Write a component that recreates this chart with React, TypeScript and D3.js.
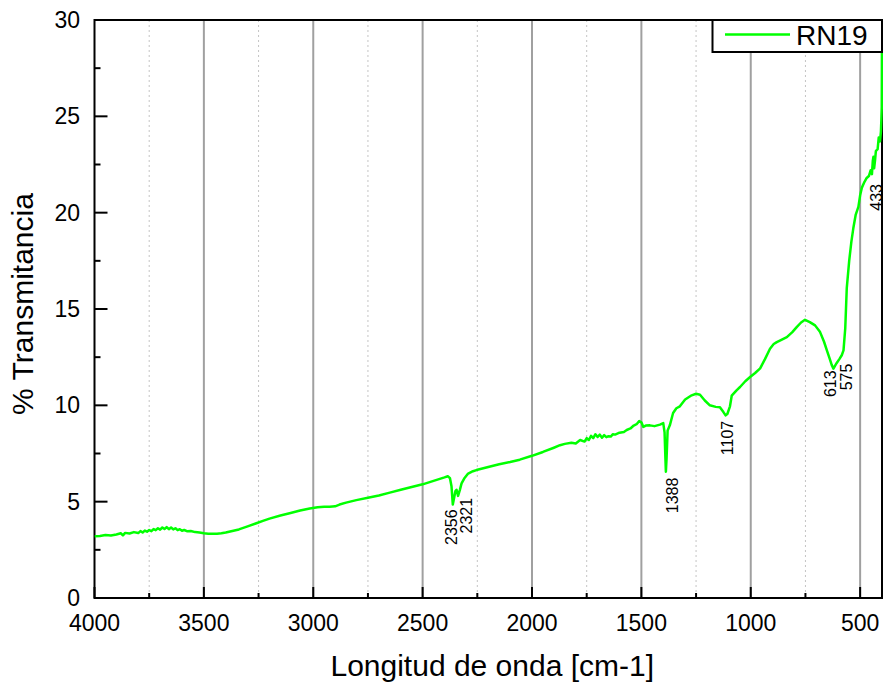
import React from "react";
import * as d3 from "d3";

const wavenumbers: number[] = [
  4000, 3975, 3950, 3925, 3900, 3880, 3870, 3860, 3840, 3820, 3800, 3790, 3780, 3770, 3760, 3750, 3740, 3730, 3720, 3710,
  3700, 3690, 3680, 3670, 3660, 3650, 3640, 3630, 3620, 3610, 3600, 3590, 3575, 3560, 3540, 3520, 3500, 3480, 3460, 3440,
  3420, 3400, 3370, 3340, 3300, 3260, 3230, 3200, 3150, 3108, 3060, 3016, 2980, 2950, 2925, 2900, 2880, 2850, 2803, 2750,
  2700, 2650, 2600, 2550, 2500, 2450, 2400, 2385, 2375, 2368, 2362, 2356, 2350, 2345, 2338, 2330, 2322, 2310, 2292, 2270,
  2254, 2200, 2150, 2100, 2056, 2000, 1950, 1900, 1872, 1850, 1820, 1800, 1780, 1760, 1750, 1740, 1730, 1720, 1710, 1700,
  1690, 1680, 1670, 1660, 1650, 1640, 1630, 1620, 1600, 1580, 1567, 1550, 1535, 1522, 1510, 1500, 1491, 1480, 1461, 1440,
  1415, 1400, 1394, 1390, 1388, 1385, 1380, 1370, 1355, 1340, 1324, 1300, 1270, 1250, 1232, 1210, 1187, 1160, 1141, 1125,
  1115, 1107, 1095, 1087, 1065, 1049, 1025, 1003, 980, 957, 935, 912, 895, 881, 860, 835, 810, 790, 770, 752,
  730, 706, 683, 665, 652, 640, 630, 622, 615, 607, 595, 584, 576, 568, 561, 550, 540, 531, 520, 508,
  500, 492, 480, 470, 460, 452, 446, 442, 439, 436, 432, 428, 420, 415, 409, 405, 403, 401, 400.5, 400,
];

const transmittance: number[] = [
  3.2, 3.22, 3.27, 3.24, 3.3, 3.36, 3.25, 3.38, 3.35, 3.42, 3.37, 3.47, 3.4, 3.5, 3.44, 3.53, 3.47, 3.58, 3.52, 3.62,
  3.55, 3.66, 3.58, 3.68, 3.57, 3.66, 3.56, 3.62, 3.52, 3.57, 3.49, 3.53, 3.46, 3.48, 3.42, 3.4, 3.36, 3.34, 3.33, 3.34,
  3.36, 3.4, 3.48, 3.56, 3.72, 3.88, 4.0, 4.12, 4.28, 4.4, 4.54, 4.65, 4.71, 4.74, 4.74, 4.76, 4.85, 4.95, 5.08, 5.2,
  5.32, 5.47, 5.62, 5.76, 5.9, 6.08, 6.26, 6.32, 6.22, 5.8, 4.85, 5.2, 5.55, 5.62, 5.3, 5.6, 5.95, 6.2, 6.46, 6.58,
  6.64, 6.8, 6.94, 7.06, 7.18, 7.38, 7.58, 7.8, 7.93, 8.0, 8.06, 8.02, 8.2, 8.12, 8.3, 8.2, 8.42, 8.3, 8.5, 8.36,
  8.48, 8.32, 8.45, 8.35, 8.4, 8.38, 8.5, 8.48, 8.58, 8.62, 8.72, 8.8, 8.95, 9.02, 9.18, 9.12, 8.88, 8.95, 8.96, 8.92,
  9.0, 9.08, 8.6, 7.2, 6.55, 7.2, 8.7, 8.96, 9.6, 9.85, 9.95, 10.3, 10.52, 10.6, 10.55, 10.25, 10.0, 9.92, 9.9, 9.65,
  9.48, 9.55, 9.95, 10.5, 10.78, 10.95, 11.25, 11.47, 11.68, 11.92, 12.4, 12.94, 13.18, 13.28, 13.4, 13.54, 13.8, 14.06, 14.3, 14.44,
  14.32, 14.15, 13.8, 13.3, 12.85, 12.45, 12.1, 11.9, 12.05, 12.2, 12.4, 12.6, 12.85, 14.0, 16.1, 17.5, 18.5, 19.2, 19.9, 20.3,
  20.9, 21.3, 21.6, 21.8, 21.9, 22.2, 22.0, 22.7, 22.9, 22.3, 22.7, 23.2, 23.3, 23.9, 23.7, 24.2, 24.8, 25.5, 27.5, 30,
];

const xTickValues: number[] = [4000, 3500, 3000, 2500, 2000, 1500, 1000, 500];
const xMinorValues: number[] = [3750, 3250, 2750, 2250, 1750, 1250, 750];
const yTickValues: number[] = [0, 5, 10, 15, 20, 25, 30];
const yMinorValues: number[] = [2.5, 7.5, 12.5, 17.5, 22.5, 27.5];

// annotation labels: text, wavenumber of label baseline, transmittance at label start
const annotLabels: string[] = ["2356", "2321", "1388", "1107", "613", "575", "433"];
const annotWn: number[] = [2342, 2276, 1333, 1082, 610, 538, 401];
const annotT: number[] = [2.75, 3.35, 4.4, 7.41, 10.43, 10.78, 20.1];

const seriesName = "RN19";
const xTitle = "Longitud de onda [cm-1]";
const yTitle = "% Transmitancia";

const W = 885;
const H = 687;
const left = 94.5;
const right = 882;
const top = 20;
const bottom = 598;
const FONT = "'Liberation Sans', Arial, sans-serif";
const GREEN = "#00ff00";

export default function App() {
  const x = d3.scaleLinear().domain([4000, 400]).range([left, right]);
  const y = d3.scaleLinear().domain([0, 30]).range([bottom, top]);
  const pts: [number, number][] = wavenumbers.map((w, i) => [w, transmittance[i]]);
  const line = d3
    .line<[number, number]>()
    .x((d) => x(d[0]))
    .y((d) => y(d[1]));

  return (
    <svg
      width={W}
      height={H}
      style={{ position: "absolute", left: 0, top: 0, background: "#fff" }}
      fontFamily={FONT}
    >
      <defs>
        <clipPath id="plotClip">
          <rect x={left} y={top} width={right - left + 1} height={bottom - top} />
        </clipPath>
      </defs>
      <rect x={0} y={0} width={W} height={H} fill="#fff" />
      {xMinorValues.map((v) => (
        <line
          key={"mg" + v}
          x1={x(v)}
          x2={x(v)}
          y1={top}
          y2={bottom}
          stroke="#c4c4c4"
          strokeWidth={1}
          strokeDasharray="2,3"
        />
      ))}
      {xTickValues
        .filter((v) => v !== 4000)
        .map((v) => (
          <line key={"Mg" + v} x1={x(v)} x2={x(v)} y1={top} y2={bottom} stroke="#a0a0a0" strokeWidth={2} />
        ))}
      <rect x={left} y={top} width={right - left} height={bottom - top} fill="none" stroke="#000" strokeWidth={2} />
      {yTickValues.map((v) => (
        <g key={"yt" + v}>
          <line x1={left} x2={left + 13} y1={y(v)} y2={y(v)} stroke="#000" strokeWidth={2} />
          <text x={80} y={y(v)} dy="0.35em" textAnchor="end" fontSize={23} fill="#000">
            {v}
          </text>
        </g>
      ))}
      {yMinorValues.map((v) => (
        <line key={"ym" + v} x1={left} x2={left + 6} y1={y(v)} y2={y(v)} stroke="#000" strokeWidth={2} />
      ))}
      {xTickValues.map((v) => (
        <g key={"xt" + v}>
          <line x1={x(v)} x2={x(v)} y1={bottom} y2={bottom - 11} stroke="#000" strokeWidth={2} />
          <text x={x(v)} y={631} textAnchor="middle" fontSize={23} fill="#000">
            {v}
          </text>
        </g>
      ))}
      {xMinorValues.map((v) => (
        <line key={"xm" + v} x1={x(v)} x2={x(v)} y1={bottom} y2={bottom - 5} stroke="#000" strokeWidth={2} />
      ))}
      <path d={line(pts) || ""} fill="none" stroke={GREEN} strokeWidth={2.5} clipPath="url(#plotClip)" strokeLinejoin="round" />
      {annotLabels.map((t, i) => (
        <text
          key={"an" + t}
          transform={`translate(${x(annotWn[i])},${y(annotT[i])}) rotate(-90)`}
          fontSize={16}
          fill="#000"
        >
          {t}
        </text>
      ))}
      <rect x={712.5} y={20} width={right - 712.5} height={32} fill="#fff" stroke="#000" strokeWidth={2} />
      <line x1={725} x2={790} y1={34.5} y2={34.5} stroke={GREEN} strokeWidth={2.5} />
      <text x={796} y={45} fontSize={28} fill="#000">
        {seriesName}
      </text>
      <text x={(left + right) / 2 + 4} y={676} textAnchor="middle" fontSize={30} fill="#000">
        {xTitle}
      </text>
      <text transform={`translate(33,304) rotate(-90)`} textAnchor="middle" fontSize={30} fill="#000">
        {yTitle}
      </text>
    </svg>
  );
}
